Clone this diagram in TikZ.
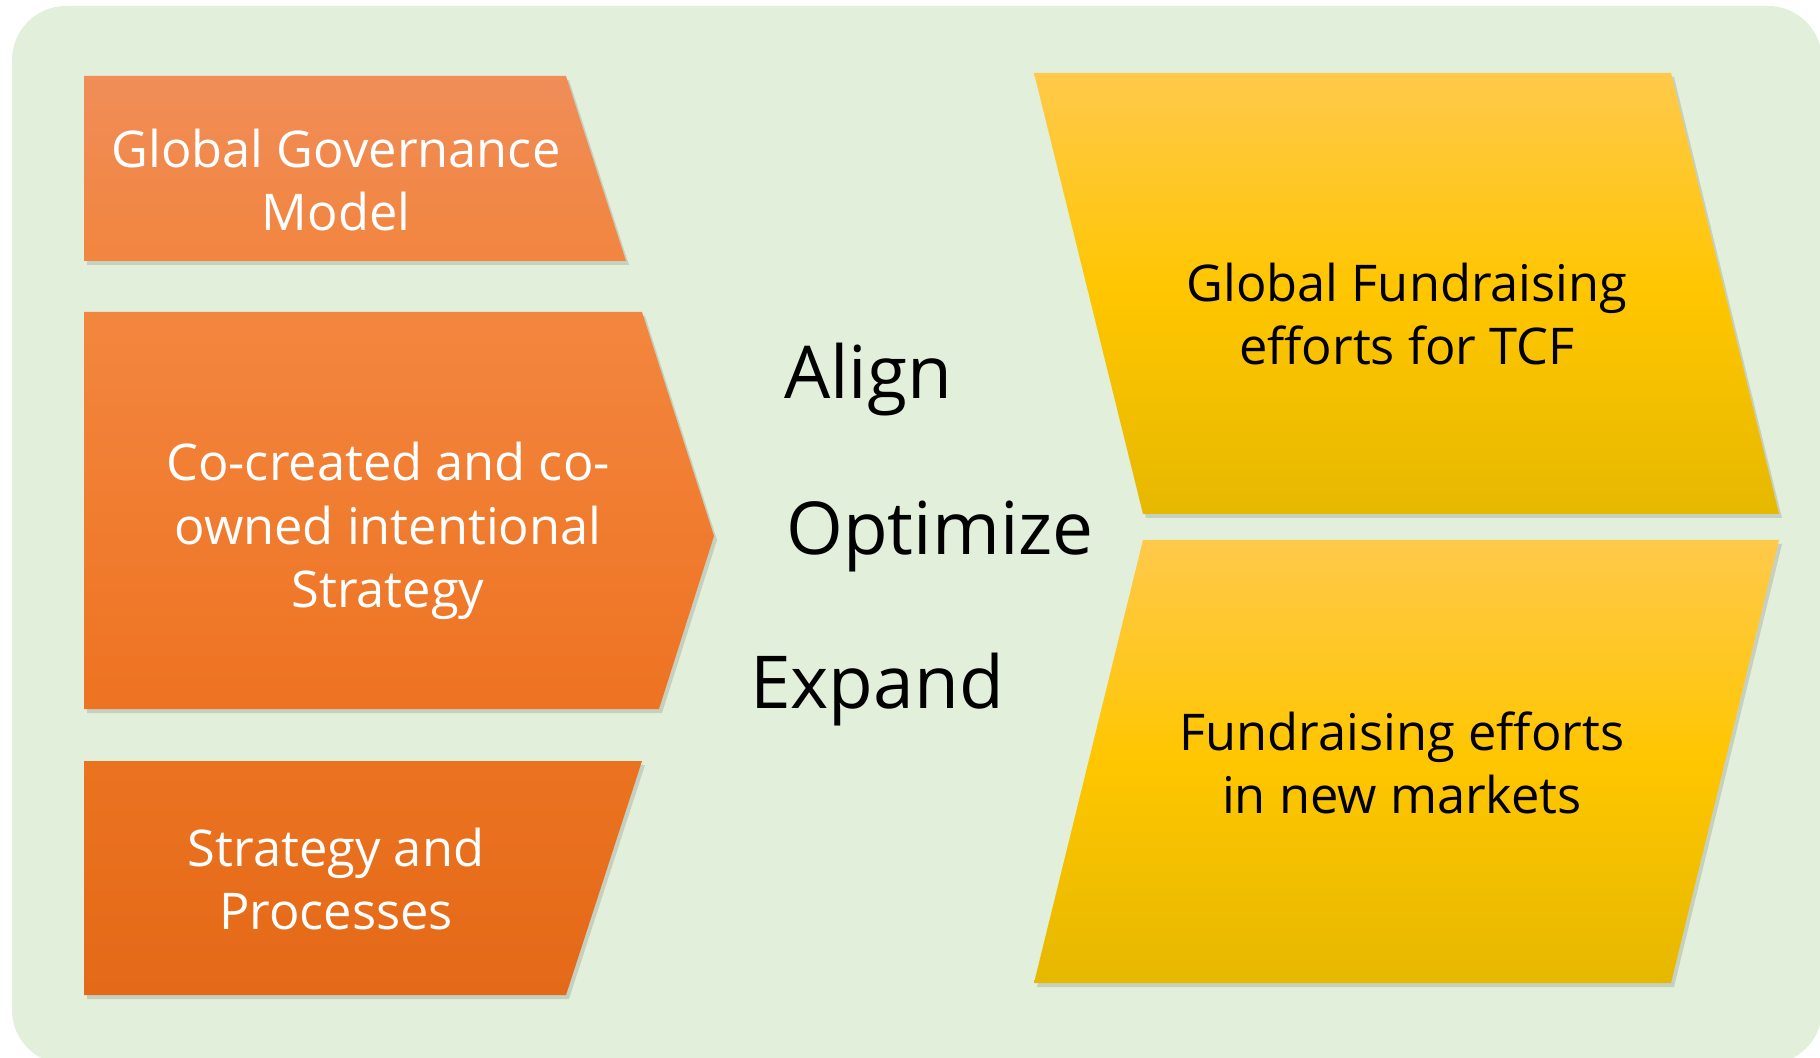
\documentclass[tikz,border=0pt]{standalone}
\usepackage{fontspec}
\setmainfont{Open Sans}
\usetikzlibrary{shadows}
\definecolor{bgc}{HTML}{E2EFDA}
\definecolor{orA}{HTML}{F08D58}
\definecolor{orB}{HTML}{F2853F}
\definecolor{orC}{HTML}{F3863F}
\definecolor{orD}{HTML}{EE7322}
\definecolor{orE}{HTML}{EB7320}
\definecolor{orF}{HTML}{E46918}
\definecolor{yeTop}{HTML}{FFC94B}
\definecolor{yeMid}{HTML}{FFC600}
\definecolor{yeBot}{HTML}{E6B800}
\pgfdeclareverticalshading{yellowgrad}{100bp}{color(0bp)=(yeBot); color(25bp)=(yeBot); color(50bp)=(yeMid); color(75bp)=(yeTop); color(100bp)=(yeTop)}
\tikzset{
  boxshadow/.style={drop shadow={shadow xshift=1.5pt, shadow yshift=-2pt, fill=black!60, opacity=0.22}},
  yellowbox/.style={boxshadow, shading=yellowgrad, draw=none},
  wtext/.style={text=white, font=\fontsize{25.3}{31.8}\selectfont, align=center, inner sep=0pt},
  ktext/.style={text=black, font=\fontsize{25.3}{31.8}\selectfont, align=center, inner sep=0pt},
  bigword/.style={text=black, font=\fontsize{36.5}{44}\selectfont, inner sep=0pt}
}
\begin{document}
\begin{tikzpicture}[x=0.5pt,y=-0.5pt]
\useasboundingbox (0,0) rectangle (1820,1058);
\clip (0,0) rectangle (1820,1058);
\fill[bgc, rounded corners=27pt] (12,6) rectangle (1822,1064);

% left orange shapes
\path[boxshadow, top color=orA, bottom color=orB] (84,76) -- (566,76) -- (626,261) -- (84,261) -- cycle;
\path[boxshadow, top color=orC, bottom color=orD] (84,312) -- (642,312) -- (714,536) -- (659,709) -- (84,709) -- cycle;
\path[boxshadow, top color=orE, bottom color=orF] (84,761) -- (642,761) -- (566,995) -- (84,995) -- cycle;

% right yellow shapes
\path[yellowbox] (1034,73) -- (1671,73) -- (1779,514) -- (1143,514) -- cycle;
\path[yellowbox] (1143,540) -- (1779,540) -- (1671,983) -- (1034,983) -- cycle;

% texts
\node[wtext] (gov) at (336,180) {Global Governance\\Model};
\node[wtext] (cocreated) at (388,531) {Co-created and co-\\owned intentional\\Strategy};
\node[wtext] (strat) at (336,879) {Strategy and\\Processes};
\node[ktext] (gfund) at (1407,314) {Global Fundraising\\efforts for TCF};
\node[ktext] (nfund) at (1402,763) {Fundraising efforts\\in new markets};

\node[bigword] (align) at (868,380) {Align};
\node[bigword] (optimize) at (940,536) {Optimize};
\node[bigword] (expand) at (877,690) {Expand};
\end{tikzpicture}
\end{document}
